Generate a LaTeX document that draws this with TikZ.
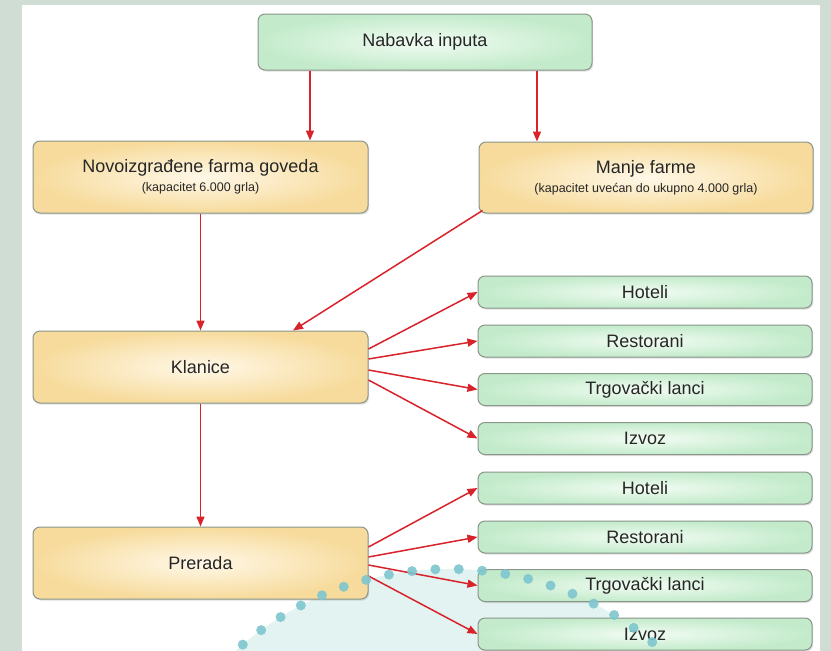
\documentclass[tikz,border=0pt]{standalone}
\usepackage{fontspec}
\setmainfont{Liberation Sans}
\usepackage{xcolor}
\usepackage{tikz}
\usetikzlibrary{positioning,calc,arrows.meta,shadows}
\definecolor{FrameGray}{HTML}{D0DDD4}
\definecolor{LineRed}{HTML}{D8232A}
\definecolor{BoxLine}{HTML}{8A968A}
\definecolor{GreenOut}{HTML}{C3EBCB}
\definecolor{GreenIn}{HTML}{F2FCF3}
\definecolor{YellowOut}{HTML}{F7DB9C}
\definecolor{YellowIn}{HTML}{FFF8E8}
\definecolor{DotTeal}{HTML}{7EC6CE}
\definecolor{ArcFill}{HTML}{E2F3F2}
\definecolor{TextGray}{HTML}{262626}
\tikzset{
    basebox/.style={rectangle, rounded corners=7pt, draw=BoxLine, line width=1pt, align=center, text=TextGray,
        drop shadow={shadow xshift=1.2pt, shadow yshift=-1.5pt, opacity=0.25}},
    greenbox/.style={basebox, inner color=GreenIn, outer color=GreenOut, font=\fontsize{18}{20}\selectfont},
    yellowbox/.style={basebox, inner color=YellowIn, outer color=YellowOut, minimum width=335pt, font=\fontsize{18}{20}\selectfont},
    smallbox/.style={greenbox, minimum width=334pt, minimum height=32pt, inner sep=0pt}
}
\newcommand{\podnaslov}[1]{\\[-1pt]{\fontsize{12.5}{14}\selectfont #1}}

\begin{document}
\begin{tikzpicture}[
        x=1pt, y=-1pt,
        % Style strelica: tanka crvena linija
        arr/.style={
            draw=LineRed,
            line width=1.5pt,
            -{Triangle[length=10pt, width=8pt]}
        },
        % Style tackastog luka u pozadini
        dots/.style={
            draw=DotTeal,
            line width=10pt,
            line cap=round,
            dash pattern=on 0pt off 23.4pt,
            opacity=0.9
        }
    ]

    % --- POZADINA ---
    \useasboundingbox (0,0) rectangle (831,651);
    \fill[FrameGray] (0,0) rectangle (831,651);
    \fill[white] (22,5) rectangle (820,651);
    \fill[ArcFill] (449,888) circle[radius=319pt];

    % --- GORNJI DIO ---
    \node[greenbox, minimum width=334pt, minimum height=56pt] (nabavka) at (425,42) {Nabavka inputa};
    \node[yellowbox, minimum height=72pt] (farma) at (200.5,177)
        {Novoizgrađene farma goveda\podnaslov{(kapacitet 6.000 grla)}};
    \node[yellowbox, minimum width=334pt, minimum height=71pt] (manje) at (646,177.5)
        {Manje farme\podnaslov{(kapacitet uvećan do ukupno 4.000 grla)}};

    % --- KLANICE I PRERADA ---
    \node[yellowbox, minimum height=72pt] (klanice) at (200.5,367) {Klanice};
    \node[yellowbox, minimum height=72pt] (prerada) at (200.5,563) {Prerada};

    % --- DESNA KOLONA: Klanice ---
    \node[smallbox] (hoteliA) at (645,292) {Hoteli};
    \node[smallbox] (restoraniA) at (645,341) {Restorani};
    \node[smallbox] (lanciA) at (645,389.5) {Trgovački lanci};
    \node[smallbox] (izvozA) at (645,438.5) {Izvoz};

    % --- DESNA KOLONA: Prerada ---
    \node[smallbox] (hoteliB) at (645,488) {Hoteli};
    \node[smallbox] (restoraniB) at (645,537) {Restorani};
    \node[smallbox] (lanciB) at (645,585.5) {Trgovački lanci};
    \node[smallbox] (izvozB) at (645,634) {Izvoz};

    % --- STRELICE ---
    \draw[arr] ([xshift=-115pt]nabavka.south) -- ([xshift=109.5pt]farma.north);
    \draw[arr] ([xshift=112pt]nabavka.south) -- ([xshift=-109pt]manje.north);
    \draw[arr] (farma.south) -- (klanice.north);
    \draw[arr] ([xshift=4pt,yshift=3pt]manje.south west) -- ([xshift=92.5pt]klanice.north);
    \draw[arr] (klanice.south) -- (prerada.north);

    \draw[arr] ([yshift=18pt]klanice.east) -- (hoteliA.west);
    \draw[arr] ([yshift=8pt]klanice.east) -- (restoraniA.west);
    \draw[arr] ([yshift=-3pt]klanice.east) -- (lanciA.west);
    \draw[arr] ([yshift=-13pt]klanice.east) -- (izvozA.west);

    \draw[arr] ([yshift=16pt]prerada.east) -- (hoteliB.west);
    \draw[arr] ([yshift=6pt]prerada.east) -- (restoraniB.west);
    \draw[arr] ([yshift=-2pt]prerada.east) -- (lanciB.west);
    \draw[arr] ([yshift=-13pt]prerada.east) -- (izvozB.west);

    % --- TACKASTI LUK ---
    \draw[dots] (449,888) circle[radius=319pt];

\end{tikzpicture}
\end{document}
